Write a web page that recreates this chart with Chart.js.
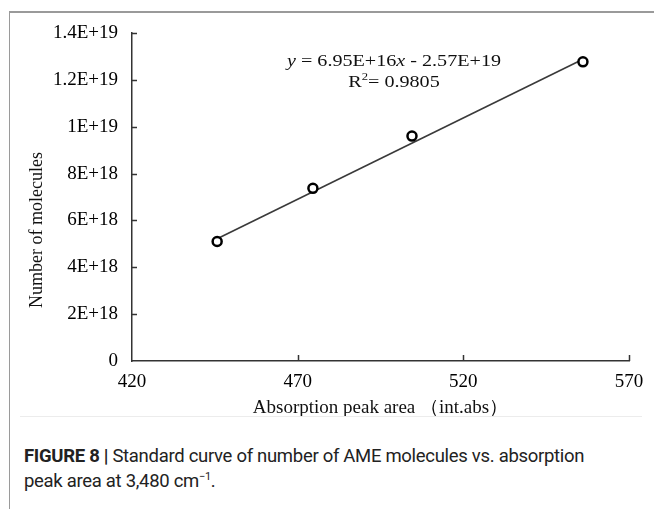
<!DOCTYPE html>
<html>
<head>
<meta charset="utf-8">
<script src="https://cdn.jsdelivr.net/npm/chart.js@4"></script>
<style>
  body { margin: 0; background: #fff; }
  #wrap { position: relative; width: 654px; height: 509px; overflow: hidden; }
  #frame { position: absolute; left: 9px; top: 11px; width: 700px; height: 560px;
           border-top: 2px solid #9a9a9a; border-left: 1px solid #9a9a9a; }
  #sep { position: absolute; left: 20px; top: 416px; width: 622px; height: 1px; background: #ececec; }
  #chartBox { position: absolute; left: 0; top: 0; width: 654px; height: 425px; }
  #caption { position: absolute; left: 24px; top: 444px; width: 620px;
             font-family: "Roboto", "Liberation Sans", sans-serif; font-size: 18.5px;
             letter-spacing: -0.3px; line-height: 25px; color: #222; }
  #caption b { font-weight: bold; }
</style>
</head>
<body>
<div id="wrap">
  <div id="frame"></div>
  <div id="chartBox"><canvas id="curveChart" width="654" height="425"></canvas></div>
  <div id="sep"></div>
  <div id="caption"><b>FIGURE 8 |</b> Standard curve of number of AME molecules vs. absorption<br>peak area at 3,480 cm<sup style="font-size:11px;line-height:0">−1</sup>.</div>
</div>
<script>
// measured points
const peakArea = [445.7, 474.6, 504.5, 556.1];
const molecules = [5.1e18, 7.37e18, 9.6e18, 1.277e19];

// fitted line as drawn (end points)
const trendX = [445.7, 556.1];
const trendY = [5.22e18, 1.288e19];

const xTicks = [420, 470, 520, 570];
const yTicks = [0, 2e18, 4e18, 6e18, 8e18, 1e19, 1.2e19, 1.4e19];
const yTickLabels = ['0', '2E+18', '4E+18', '6E+18', '8E+18', '1E+19', '1.2E+19', '1.4E+19'];

const serif = '"Liberation Serif", "Times New Roman", serif';

// inward tick marks, y title and fit equation
const extras = {
    id: 'extras',
    afterDraw(chart) {
        const ctx = chart.ctx;
        const xs = chart.scales.x, ys = chart.scales.y;
        const area = chart.chartArea;
        ctx.save();
        ctx.strokeStyle = '#333';
        ctx.lineWidth = 1.5;
        yTicks.slice(1).forEach(v => {
            const py = Math.round(ys.getPixelForValue(v)) + 0.5;
            ctx.beginPath();
            ctx.moveTo(area.left, py);
            ctx.lineTo(area.left + 5, py);
            ctx.stroke();
        });
        xTicks.slice(1).forEach(v => {
            const px = Math.round(xs.getPixelForValue(v)) + 0.5;
            ctx.beginPath();
            ctx.moveTo(px, area.bottom);
            ctx.lineTo(px, area.bottom - 6);
            ctx.stroke();
        });

        // y axis title
        ctx.fillStyle = '#111';
        ctx.font = '18px ' + serif;
        ctx.textAlign = 'center';
        ctx.textBaseline = 'middle';
        ctx.save();
        ctx.translate(37, 230);
        ctx.rotate(-Math.PI / 2);
        ctx.fillText('Number of molecules', 0, 0);
        ctx.restore();

        // equation, a little wide like the original
        ctx.save();
        ctx.translate(394, 0);
        ctx.scale(1.15, 1);
        const fs = 17.5;
        const parts = [
            ['italic ' + fs + 'px ' + serif, 'y'],
            [fs + 'px ' + serif, ' = 6.95E+16'],
            ['italic ' + fs + 'px ' + serif, 'x'],
            [fs + 'px ' + serif, ' - 2.57E+19']
        ];
        let total = 0;
        parts.forEach(p => { ctx.font = p[0]; total += ctx.measureText(p[1]).width; });
        let cx = -total / 2;
        ctx.textAlign = 'left';
        parts.forEach(p => {
            ctx.font = p[0];
            ctx.fillText(p[1], cx, 61);
            cx += ctx.measureText(p[1]).width;
        });
        ctx.font = fs + 'px ' + serif;
        const r = 'R', sq = '2', rest = '= 0.9805';
        const wR = ctx.measureText(r).width;
        const wRest = ctx.measureText(rest).width;
        ctx.font = '11px ' + serif;
        const wSq = ctx.measureText(sq).width;
        const rx = -(wR + wSq + wRest) / 2;
        ctx.font = fs + 'px ' + serif;
        ctx.fillText(r, rx, 82);
        ctx.font = '11px ' + serif;
        ctx.fillText(sq, rx + wR, 77);
        ctx.font = fs + 'px ' + serif;
        ctx.fillText(rest, rx + wR + wSq, 82);
        ctx.restore();
        ctx.restore();
    }
};

new Chart(document.getElementById('curveChart').getContext('2d'), {
    type: 'scatter',
    data: {
        datasets: [
            {
                label: 'Samples',
                data: peakArea.map((x, i) => ({ x: x, y: molecules[i] })),
                pointRadius: 4.5,
                pointBorderWidth: 2.5,
                pointBorderColor: '#000',
                pointBackgroundColor: '#fff',
                order: 0
            },
            {
                label: 'Linear fit',
                data: trendX.map((x, i) => ({ x: x, y: trendY[i] })),
                showLine: true,
                borderColor: '#3a3a3a',
                borderWidth: 1.6,
                pointRadius: 0,
                order: 1
            }
        ]
    },
    options: {
        responsive: false,
        animation: false,
        events: [],
        layout: { padding: { top: 33, right: 25, bottom: 6, left: 0 } },
        plugins: { legend: { display: false }, tooltip: { enabled: false } },
        scales: {
            x: {
                type: 'linear',
                min: 420, max: 570,
                afterBuildTicks: s => { s.ticks = xTicks.map(v => ({ value: v })); },
                afterFit: s => { s.height = 58; },
                grid: { display: false, drawTicks: false },
                border: { display: true, color: '#333', width: 1.5 },
                ticks: { color: '#000', padding: 10, maxRotation: 0, font: { family: serif, size: 19 } },
                title: {
                    display: true,
                    text: 'Absorption peak area （int.abs）',
                    color: '#111',
                    padding: { top: 2, bottom: 0 },
                    font: { family: serif, size: 19 }
                }
            },
            y: {
                type: 'linear',
                min: 0, max: 1.4e19,
                afterBuildTicks: s => { s.ticks = yTicks.map(v => ({ value: v })); },
                afterFit: s => { s.width = 132; },
                grid: { display: false, drawTicks: false },
                border: { display: true, color: '#333', width: 1.5 },
                ticks: {
                    color: '#000',
                    padding: 14,
                    font: { family: serif, size: 19 },
                    callback: (v, i) => yTickLabels[i]
                }
            }
        }
    },
    plugins: [extras]
});
</script>
</body>
</html>
